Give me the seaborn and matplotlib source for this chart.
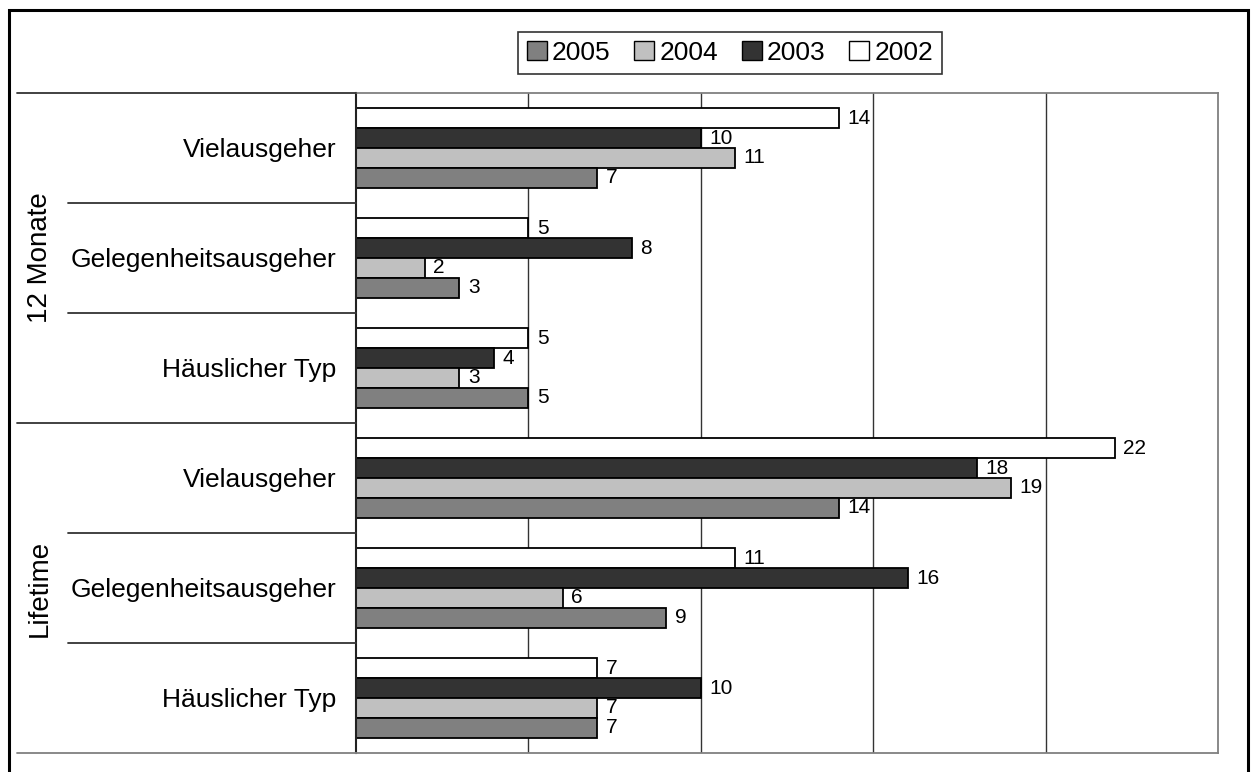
import matplotlib
matplotlib.use("Agg")
import matplotlib.pyplot as plt
from matplotlib.lines import Line2D
from matplotlib.patches import Rectangle, Patch
import seaborn as sns
import pandas as pd

# Survey shares by period, type of going-out behaviour and year
periods = ["12 Monate", "Lifetime"]
types = ["Vielausgeher", "Gelegenheitsausgeher", "Häuslicher Typ"]
years = ["2002", "2003", "2004", "2005"]
v2002 = [14, 5, 5, 22, 11, 7]
v2003 = [10, 8, 4, 18, 16, 10]
v2004 = [11, 2, 3, 19, 6, 7]
v2005 = [7, 3, 5, 14, 9, 7]

colors = {"2002": "#FFFFFF", "2003": "#333333", "2004": "#C0C0C0", "2005": "#808080"}

rows = [f"{p} | {t}" for p in periods for t in types]
row_types = [t for p in periods for t in types]
series = {"2002": v2002, "2003": v2003, "2004": v2004, "2005": v2005}
df = pd.DataFrame(
    [(r, y, series[y][i]) for y in years for i, r in enumerate(rows)],
    columns=["row", "year", "value"],
)

sns.set_style("white")
plt.rcParams["font.family"] = ["Liberation Sans", "DejaVu Sans"]
plt.rcParams["text.color"] = "black"
plt.rcParams["ytick.color"] = "black"
plt.rcParams["ytick.labelcolor"] = "black"

W, H = 1255, 772
fig = plt.figure(figsize=(W / 100, H / 100), dpi=100)
fig.patch.set_facecolor("white")

x0, x1, y0, y1 = 356, 1218, 93, 753
ax = fig.add_axes([x0 / W, 1 - y1 / H, (x1 - x0) / W, (y1 - y0) / H])

sns.barplot(
    data=df, y="row", x="value", hue="year", order=rows, hue_order=years,
    palette=colors, orient="h", width=0.727, edgecolor="black", linewidth=1.3,
    saturation=1, ax=ax, legend=True,
)

ax.set_xlim(0, 25)
ax.set_ylim(len(rows) - 0.5, -0.5)
ax.set_xlabel("")
ax.set_ylabel("")
ax.set_xticks([])
for xv in [5, 10, 15, 20]:
    ax.axvline(xv, color="#333333", lw=1.0, zorder=0)

ax.set_yticks(range(len(rows)))
ax.set_yticklabels(row_types, fontsize=19, color="black")
ax.tick_params(axis="y", length=0, pad=14)

for side in ["top", "right", "bottom"]:
    ax.spines[side].set_color("#808080")
    ax.spines[side].set_linewidth(1.3)
ax.spines["left"].set_color("#222222")
ax.spines["left"].set_linewidth(1.5)

for cont in ax.containers:
    ax.bar_label(cont, fmt="%d", padding=6, fontsize=15, color="black")

# Category separators on the left-hand axis
def fig_hline(ypix, xstart, color):
    fig.add_artist(Line2D([xstart / W, x0 / W], [1 - ypix / H, 1 - ypix / H],
                          color=color, lw=1.3, transform=fig.transFigure))

band = (y1 - y0) / len(rows)
for k in range(len(rows) + 1):
    ypix = y0 + k * band
    if k % 3 == 0:
        fig_hline(ypix, 17, "#333333" if k < len(rows) else "#808080")
    else:
        fig_hline(ypix, 68, "#333333")

# Period labels
for j, p in enumerate(periods):
    yc = y0 + (j * 3 + 1.5) * band
    fig.text(40 / W, 1 - yc / H, p, rotation=90, ha="center", va="center",
             fontsize=20, color="black")

# Legend in the order 2005, 2004, 2003, 2002
ax.get_legend().remove()
handles = [Patch(facecolor=colors[y], edgecolor="black", linewidth=1.0) for y in years[::-1]]
leg = fig.legend(handles, years[::-1], loc="center", bbox_to_anchor=(730 / W, 1 - 53 / H),
                 ncol=4, fontsize=19, frameon=True, fancybox=False, handlelength=0.75,
                 handleheight=0.75, handletextpad=0.2, columnspacing=0.9,
                 borderpad=0.35)
leg.get_frame().set_edgecolor("black")
leg.get_frame().set_linewidth(1.2)
for t in leg.get_texts():
    t.set_color("black")

# Outer frame
fig.add_artist(Rectangle((9 / W, -0.05), (1248 - 9) / W, 1.05 - 10 / H,
                         transform=fig.transFigure, fill=False, edgecolor="black", lw=2.2))

fig.savefig("out.png", dpi=100)
